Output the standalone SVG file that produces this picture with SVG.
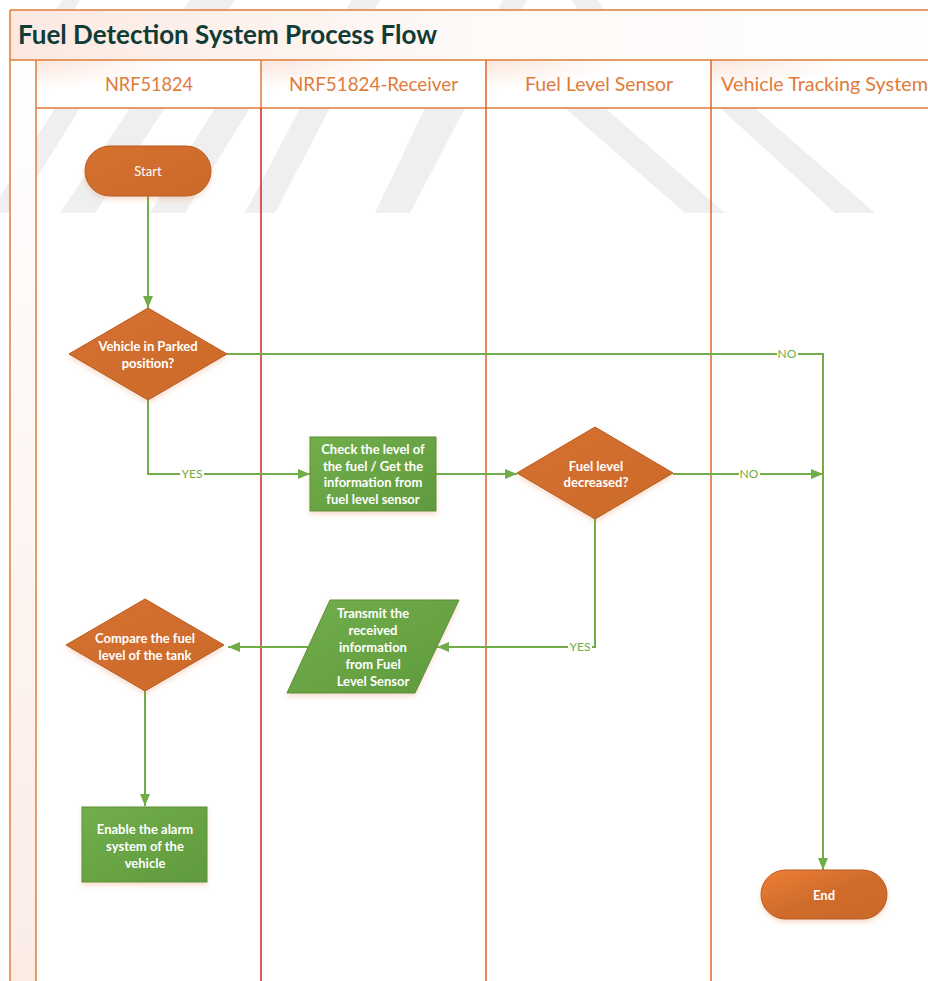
<svg xmlns="http://www.w3.org/2000/svg" width="928" height="981" viewBox="0 0 928 981">
<style>
.wm{fill:#efefef}
.frame{stroke:#e07b39;stroke-width:1.5;fill:none}
.lane{stroke:#d9672a;stroke-width:1.5;fill:none}
.lanered{stroke:#c8262a;stroke-width:1.5;fill:none}
.hdr{font-family:Lato,"Liberation Sans",sans-serif;font-size:19px;fill:#e07b39;text-anchor:middle}
.title{font-family:Lato,"Liberation Sans",sans-serif;font-size:26px;font-weight:bold;fill:#113c36}
.orange{fill:url(#og);stroke:#b65a22;stroke-width:1}
.green{fill:url(#gg);stroke:#5a8f3a;stroke-width:1}
.nt{font-family:Lato,"Liberation Sans",sans-serif;font-size:13px;font-weight:bold;fill:#ffffff;text-anchor:middle}
.conn{stroke:#70ad47;stroke-width:2;fill:none}
.lbl{font-family:Lato,"Liberation Sans",sans-serif;font-size:12px;fill:#70ad47;text-anchor:middle}
</style>
<defs>
<linearGradient id="og" x1="0" y1="0" x2="1" y2="1">
<stop offset="0" stop-color="#d6702f"/>
<stop offset="1" stop-color="#cb6a2b"/>
</linearGradient>
<linearGradient id="og2" x1="0" y1="0" x2="1" y2="1">
<stop offset="0" stop-color="#ef7f34"/>
<stop offset="0.5" stop-color="#d06c2c"/>
<stop offset="1" stop-color="#cb6a2b"/>
</linearGradient>
<linearGradient id="gg" x1="0" y1="0" x2="1" y2="1">
<stop offset="0" stop-color="#72ae4a"/>
<stop offset="1" stop-color="#5f9a3e"/>
</linearGradient>
<linearGradient id="tg" x1="0" y1="0" x2="1" y2="0">
<stop offset="0" stop-color="#fbe9e1"/>
<stop offset="0.5" stop-color="#fefaf8"/>
<stop offset="1" stop-color="#ffffff"/>
</linearGradient>
<radialGradient id="hg" cx="0" cy="0" r="1">
<stop offset="0" stop-color="#fbe6dc"/>
<stop offset="0.6" stop-color="#ffffff"/>
</radialGradient>
<linearGradient id="sg" x1="0" y1="0" x2="0" y2="1">
<stop offset="0" stop-color="#ffffff"/>
<stop offset="1" stop-color="#fbece6"/>
</linearGradient>
<filter id="sh" x="-20%" y="-20%" width="140%" height="150%">
<feDropShadow dx="0" dy="3" stdDeviation="2.5" flood-color="#e07b39" flood-opacity="0.25"/>
</filter>
<marker id="ah" viewBox="0 0 12 10" refX="12" refY="5" markerWidth="12" markerHeight="10" markerUnits="userSpaceOnUse" orient="auto">
<path d="M0,0 L12,5 L0,10 Z" fill="#70ad47"/>
</marker>
</defs>
<rect x="0" y="0" width="928" height="981" fill="#ffffff"/>
<g id="watermark">
<polygon class="wm" points="55,108 80,108 15,213 -10,213"/>
<polygon class="wm" points="130,108 165,108 95,213 60,213"/>
<polygon class="wm" points="215,108 250,108 185,213 150,213"/>
<polygon class="wm" points="300,108 330,108 275,213 245,213"/>
<polygon class="wm" points="425,108 465,108 410,213 375,213"/>
<polygon class="wm" points="565,108 605,108 725,213 685,213"/>
<polygon class="wm" points="720,108 755,108 875,213 835,213"/>
<polygon class="wm" points="62,0 80,0 74,10 56,10"/>
<polygon class="wm" points="190,0 235,0 228,10 183,10"/>
<polygon class="wm" points="352,0 380,0 374,10 346,10"/>
<polygon class="wm" points="503,0 527,0 521,10 497,10"/>
<polygon class="wm" points="572,0 598,0 604,10 578,10"/>
</g>
<g id="pool">
<rect x="10" y="10" width="930" height="50" fill="url(#tg)"/>
<rect x="10" y="60" width="26" height="921" fill="url(#sg)"/>
<rect x="36" y="60" width="225" height="48" fill="url(#hg)"/>
<rect x="261" y="60" width="225" height="48" fill="url(#hg)"/>
<rect x="486" y="60" width="225" height="48" fill="url(#hg)"/>
<rect x="711" y="60" width="225" height="48" fill="url(#hg)"/>
<line class="frame" x1="10" y1="10" x2="928" y2="10"/>
<line class="frame" x1="10" y1="10" x2="10" y2="981"/>
<line class="frame" x1="10" y1="60" x2="928" y2="60"/>
<line class="frame" x1="36" y1="60" x2="36" y2="981"/>
<line class="frame" x1="36" y1="108" x2="928" y2="108"/>
<line class="frame" x1="261" y1="60" x2="261" y2="108"/>
<line class="lanered" x1="261" y1="108" x2="261" y2="981"/>
<line class="lane" x1="486" y1="60" x2="486" y2="981"/>
<line class="lane" x1="711" y1="60" x2="711" y2="981"/>
<text class="title" x="18" y="44" textLength="419" lengthAdjust="spacingAndGlyphs">Fuel Detection System Process Flow</text>
<text class="hdr" x="149" y="91" textLength="88" lengthAdjust="spacingAndGlyphs">NRF51824</text>
<text class="hdr" x="373.5" y="91" textLength="169" lengthAdjust="spacingAndGlyphs">NRF51824-Receiver</text>
<text class="hdr" x="599" y="91" textLength="148" lengthAdjust="spacingAndGlyphs">Fuel Level Sensor</text>
<text class="hdr" x="824.5" y="91" textLength="207" lengthAdjust="spacingAndGlyphs">Vehicle Tracking System</text>
</g>
<g id="connectors">
<path class="conn" d="M148,196 L148,308" marker-end="url(#ah)"/>
<path class="conn" d="M148,400 L148,474 L310,474" marker-end="url(#ah)"/>
<path class="conn" d="M436,474 L517,474" marker-end="url(#ah)"/>
<path class="conn" d="M227,354 L823,354 L823,870" marker-end="url(#ah)"/>
<path class="conn" d="M673,474 L823,474" marker-end="url(#ah)"/>
<path class="conn" d="M595,519 L595,647 L437,647" marker-end="url(#ah)"/>
<path class="conn" d="M308,647 L228,647" marker-end="url(#ah)"/>
<path class="conn" d="M145,691 L145,806" marker-end="url(#ah)"/>
<rect x="180" y="467" width="24" height="14" fill="#ffffff"/>
<text class="lbl" x="192" y="478">YES</text>
<rect x="777" y="347" width="21" height="14" fill="#ffffff"/>
<text class="lbl" x="787" y="358">NO</text>
<rect x="739" y="467" width="21" height="14" fill="#ffffff"/>
<text class="lbl" x="749" y="478">NO</text>
<rect x="568" y="640" width="24" height="14" fill="#ffffff"/>
<text class="lbl" x="580" y="651">YES</text>
</g>
<g id="start">
<rect class="orange" x="85" y="146" width="126" height="50" rx="25" filter="url(#sh)"/>
<text class="nt" x="148" y="176" style="font-weight:normal">Start</text>
</g>
<g id="parked">
<polygon class="orange" points="148,308 227,354 148,400 69,354" filter="url(#sh)"/>
<text class="nt" x="148" y="351">Vehicle in Parked</text>
<text class="nt" x="148" y="368">position?</text>
</g>
<g id="check">
<rect class="green" x="310" y="437" width="126" height="74" filter="url(#sh)"/>
<text class="nt" x="373" y="453.5">Check the level of</text>
<text class="nt" x="373" y="470.5">the fuel / Get the</text>
<text class="nt" x="373" y="487">information from</text>
<text class="nt" x="373" y="504">fuel level sensor</text>
</g>
<g id="decreased">
<polygon class="orange" points="595,427 673,473 595,519 517,473" filter="url(#sh)"/>
<text class="nt" x="596" y="470.5">Fuel level</text>
<text class="nt" x="596" y="487">decreased?</text>
</g>
<g id="transmit">
<polygon class="green" points="330,600 459,600 415,693 287,693" filter="url(#sh)"/>
<text class="nt" x="373" y="617.5">Transmit the</text>
<text class="nt" x="373" y="635">received</text>
<text class="nt" x="373" y="652">information</text>
<text class="nt" x="373" y="669">from Fuel</text>
<text class="nt" x="373" y="686">Level Sensor</text>
</g>
<g id="compare">
<polygon class="orange" points="145,599 224,645 145,691 66,645" filter="url(#sh)"/>
<text class="nt" x="145" y="642.5">Compare the fuel</text>
<text class="nt" x="145" y="659.5">level of the tank</text>
</g>
<g id="alarm">
<rect class="green" x="82" y="807" width="125" height="75" filter="url(#sh)"/>
<text class="nt" x="145" y="833.5">Enable the alarm</text>
<text class="nt" x="145" y="850.5">system of the</text>
<text class="nt" x="145" y="867.5">vehicle</text>
</g>
<g id="end">
<rect x="761" y="870" width="126" height="49" rx="24.5" fill="url(#og2)" stroke="#b65a22" stroke-width="1" filter="url(#sh)"/>
<text class="nt" x="824" y="899.5">End</text>
</g>
</svg>
